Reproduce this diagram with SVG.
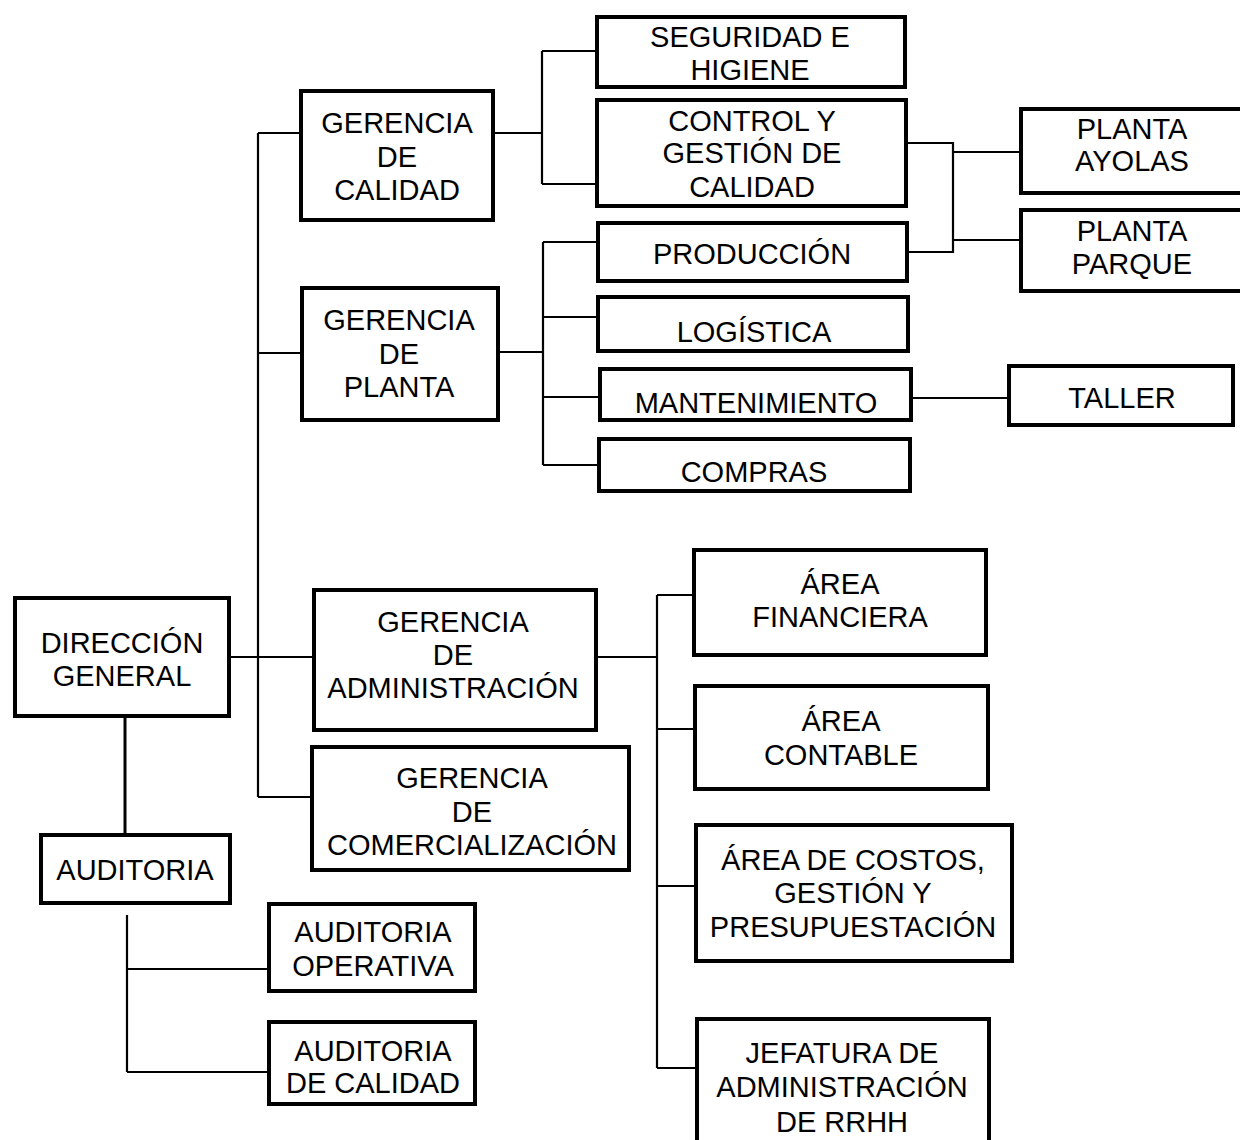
<svg xmlns="http://www.w3.org/2000/svg" width="1240" height="1140" viewBox="0 0 1240 1140">
<style>
.box{fill:#fff;stroke:#000;stroke-width:4}
.t{font-family:"Liberation Sans",Arial,sans-serif;font-size:29px;fill:#000;text-anchor:middle}
.c{fill:none;stroke:#000;stroke-width:2.2}
</style>
<rect width="1240" height="1140" fill="#fff"/>
<g id="connectors" class="c">
<path d="M258,133V797M258,133H299M258,353H300M231,657H312M258,797H310"/>
<path d="M495,133H542M542,51V184M542,51H595M542,184H595"/>
<path d="M500,352H543M543,242V465M543,242H596M543,317H596M543,397H598M543,465H597"/>
<path d="M908,143H953V252H909M953,152H1019M953,240H1019"/>
<path d="M913,398H1007"/>
<path d="M598,657H657M657,595V1068M657,595H692M657,729H693M657,886H694M657,1068H695"/>
<path d="M125,718V833" stroke-width="3"/>
<path d="M127,915V1072M127,969H267M127,1072H267"/>
</g>
<g id="direccion-general"><rect class="box" x="15" y="598" width="214" height="118"/><text class="t" x="122" y="653">DIRECCIÓN</text><text class="t" x="122" y="686">GENERAL</text></g>
<g id="gerencia-calidad"><rect class="box" x="301" y="91" width="192" height="129"/><text class="t" x="397" y="133">GERENCIA</text><text class="t" x="397" y="167">DE</text><text class="t" x="397" y="200">CALIDAD</text></g>
<g id="gerencia-planta"><rect class="box" x="302" y="288" width="196" height="132"/><text class="t" x="399" y="330">GERENCIA</text><text class="t" x="399" y="364">DE</text><text class="t" x="399" y="397">PLANTA</text></g>
<g id="gerencia-administracion"><rect class="box" x="314" y="590" width="282" height="140"/><text class="t" x="453" y="632">GERENCIA</text><text class="t" x="453" y="665">DE</text><text class="t" x="453" y="698">ADMINISTRACIÓN</text></g>
<g id="gerencia-comercializacion"><rect class="box" x="312" y="747" width="317" height="123"/><text class="t" x="472" y="788">GERENCIA</text><text class="t" x="472" y="822">DE</text><text class="t" x="472" y="855">COMERCIALIZACIÓN</text></g>
<g id="seguridad-higiene"><rect class="box" x="597" y="17" width="308" height="70"/><text class="t" x="750" y="47">SEGURIDAD E</text><text class="t" x="750" y="80">HIGIENE</text></g>
<g id="control-gestion-calidad"><rect class="box" x="597" y="100" width="309" height="106"/><text class="t" x="752" y="131">CONTROL Y</text><text class="t" x="752" y="163">GESTIÓN DE</text><text class="t" x="752" y="197">CALIDAD</text></g>
<g id="planta-ayolas"><rect class="box" x="1021" y="109" width="240" height="84"/><text class="t" x="1132" y="139">PLANTA</text><text class="t" x="1132" y="171">AYOLAS</text></g>
<g id="planta-parque"><rect class="box" x="1021" y="210" width="240" height="81"/><text class="t" x="1132" y="241">PLANTA</text><text class="t" x="1132" y="274">PARQUE</text></g>
<g id="produccion"><rect class="box" x="598" y="223" width="309" height="58"/><text class="t" x="752" y="264">PRODUCCIÓN</text></g>
<g id="logistica"><rect class="box" x="598" y="297" width="310" height="54"/><text class="t" x="754" y="342">LOGÍSTICA</text></g>
<g id="mantenimiento"><rect class="box" x="600" y="369" width="311" height="51"/><text class="t" x="756" y="413">MANTENIMIENTO</text></g>
<g id="taller"><rect class="box" x="1009" y="366" width="224" height="59"/><text class="t" x="1122" y="408">TALLER</text></g>
<g id="compras"><rect class="box" x="599" y="439" width="311" height="52"/><text class="t" x="754" y="482">COMPRAS</text></g>
<g id="area-financiera"><rect class="box" x="694" y="550" width="292" height="105"/><text class="t" x="840" y="594">ÁREA</text><text class="t" x="840" y="627">FINANCIERA</text></g>
<g id="area-contable"><rect class="box" x="695" y="686" width="293" height="103"/><text class="t" x="841" y="731">ÁREA</text><text class="t" x="841" y="765">CONTABLE</text></g>
<g id="area-costos"><rect class="box" x="696" y="825" width="316" height="136"/><text class="t" x="853" y="870">ÁREA DE COSTOS,</text><text class="t" x="853" y="903">GESTIÓN Y</text><text class="t" x="853" y="937">PRESUPUESTACIÓN</text></g>
<g id="jefatura-rrhh"><rect class="box" x="697" y="1019" width="292" height="140"/><text class="t" x="842" y="1063">JEFATURA DE</text><text class="t" x="842" y="1097">ADMINISTRACIÓN</text><text class="t" x="842" y="1132">DE RRHH</text></g>
<g id="auditoria"><rect class="box" x="41" y="835" width="189" height="68"/><text class="t" x="135" y="880">AUDITORIA</text></g>
<g id="auditoria-operativa"><rect class="box" x="269" y="904" width="206" height="87"/><text class="t" x="373" y="942">AUDITORIA</text><text class="t" x="373" y="976">OPERATIVA</text></g>
<g id="auditoria-calidad"><rect class="box" x="269" y="1022" width="206" height="82"/><text class="t" x="373" y="1061">AUDITORIA</text><text class="t" x="373" y="1093">DE CALIDAD</text></g>
</svg>
